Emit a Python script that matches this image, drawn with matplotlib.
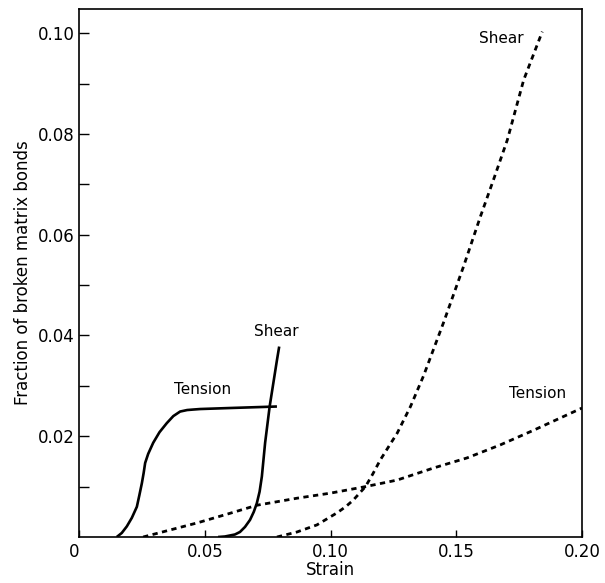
import matplotlib
matplotlib.use("Agg")
import matplotlib.pyplot as plt
from matplotlib.ticker import FixedLocator

# Solid curves (left group)
tension_solid_x = [0.0150, 0.0170, 0.0190, 0.0210, 0.0230, 0.0240, 0.0250, 0.0257, 0.0263, 0.0275, 0.0295, 0.0320,
                   0.0349, 0.0375, 0.0402, 0.0430, 0.0455, 0.0482, 0.0600, 0.0787]
tension_solid_y = [0.0000, 0.0008, 0.0021, 0.0038, 0.0060, 0.0083, 0.0107, 0.0127, 0.0147, 0.0165, 0.0187, 0.0208,
                   0.0226, 0.0240, 0.0249, 0.0252, 0.0253, 0.0254, 0.0256, 0.0259]

shear_solid_x = [0.0553, 0.0580, 0.0600, 0.0620, 0.0640, 0.0660, 0.0680, 0.0695, 0.0707, 0.0718, 0.0727, 0.0740,
                 0.0758, 0.0787, 0.0796]
shear_solid_y = [0.0000, 0.0001, 0.0003, 0.0005, 0.0010, 0.0020, 0.0034, 0.0050, 0.0067, 0.0090, 0.0120, 0.0187,
                 0.0259, 0.0351, 0.0378]

# Dashed curves (right group)
tension_dashed_x = [0.0255, 0.0470, 0.0600, 0.0707, 0.0867, 0.0999, 0.1139, 0.1265, 0.1410, 0.1543, 0.1676,
                    0.1808, 0.2000]
tension_dashed_y = [0.0000, 0.0028, 0.0047, 0.0063, 0.0077, 0.0087, 0.0100, 0.0113, 0.0137, 0.0157, 0.0183,
                    0.0212, 0.0256]

shear_dashed_x = [0.0787, 0.0867, 0.0946, 0.1026, 0.1060, 0.1090, 0.1139, 0.1168, 0.1198, 0.1232, 0.1265, 0.1318,
                  0.1370, 0.1449, 0.1529, 0.1596, 0.1648, 0.1703, 0.1768, 0.1842]
shear_dashed_y = [0.0000, 0.0010, 0.0024, 0.0048, 0.0060, 0.0073, 0.0100, 0.0125, 0.0153, 0.0180, 0.0206, 0.0259,
                  0.0320, 0.0425, 0.0537, 0.0636, 0.0709, 0.0788, 0.0907, 0.1003]

x_ticks = [0, 0.05, 0.10, 0.15, 0.20]
x_tick_labels = ["0", "0.05", "0.10", "0.15", "0.20"]
y_ticks = [0.02, 0.04, 0.06, 0.08, 0.10]
y_tick_labels = ["0.02", "0.04", "0.06", "0.08", "0.10"]
y_minor_ticks = [0.01, 0.03, 0.05, 0.07, 0.09]

plt.rcParams['font.family'] = ['DejaVu Sans']

fig = plt.figure(figsize=(6.05, 5.83), dpi=100)
ax = fig.add_axes([0.1306, 0.0789, 0.962 - 0.1306, 0.9846 - 0.0789])

ax.plot(tension_solid_x, tension_solid_y, color="black", lw=1.9, solid_capstyle="butt", solid_joinstyle="round")
ax.plot(shear_solid_x, shear_solid_y, color="black", lw=1.9, solid_capstyle="butt", solid_joinstyle="round")
ax.plot(tension_dashed_x, tension_dashed_y, color="black", lw=2.0, linestyle=(0, (1.9, 1.6)))
ax.plot(shear_dashed_x, shear_dashed_y, color="black", lw=2.0, linestyle=(0, (1.9, 1.6)))

ax.text(0.0492, 0.0292, "Tension", ha="center", va="center", fontsize=11)
ax.text(0.0786, 0.0408, "Shear", ha="center", va="center", fontsize=11)
ax.text(0.1825, 0.0285, "Tension", ha="center", va="center", fontsize=11)
ax.text(0.168, 0.0990, "Shear", ha="center", va="center", fontsize=11)

ax.set_xlim(0, 0.2)
ax.set_ylim(0, 0.1048)
ax.set_xticks(x_ticks)
ax.set_xticklabels(x_tick_labels, fontsize=12)
ax.get_xticklabels()[0].set_horizontalalignment("right")
ax.set_yticks(y_ticks)
ax.set_yticklabels(y_tick_labels, fontsize=12)
ax.yaxis.set_minor_locator(FixedLocator(y_minor_ticks))
ax.tick_params(axis="x", direction="in", length=5, width=1, pad=4)
ax.tick_params(axis="y", which="both", direction="in", length=7, width=1, pad=3)
for s in ax.spines.values():
    s.set_linewidth(1.2)

ax.set_xlabel("Strain", fontsize=12, labelpad=0)
ax.set_ylabel("Fraction of broken matrix bonds", fontsize=12, labelpad=4)

fig.savefig("out.png", dpi=100)
